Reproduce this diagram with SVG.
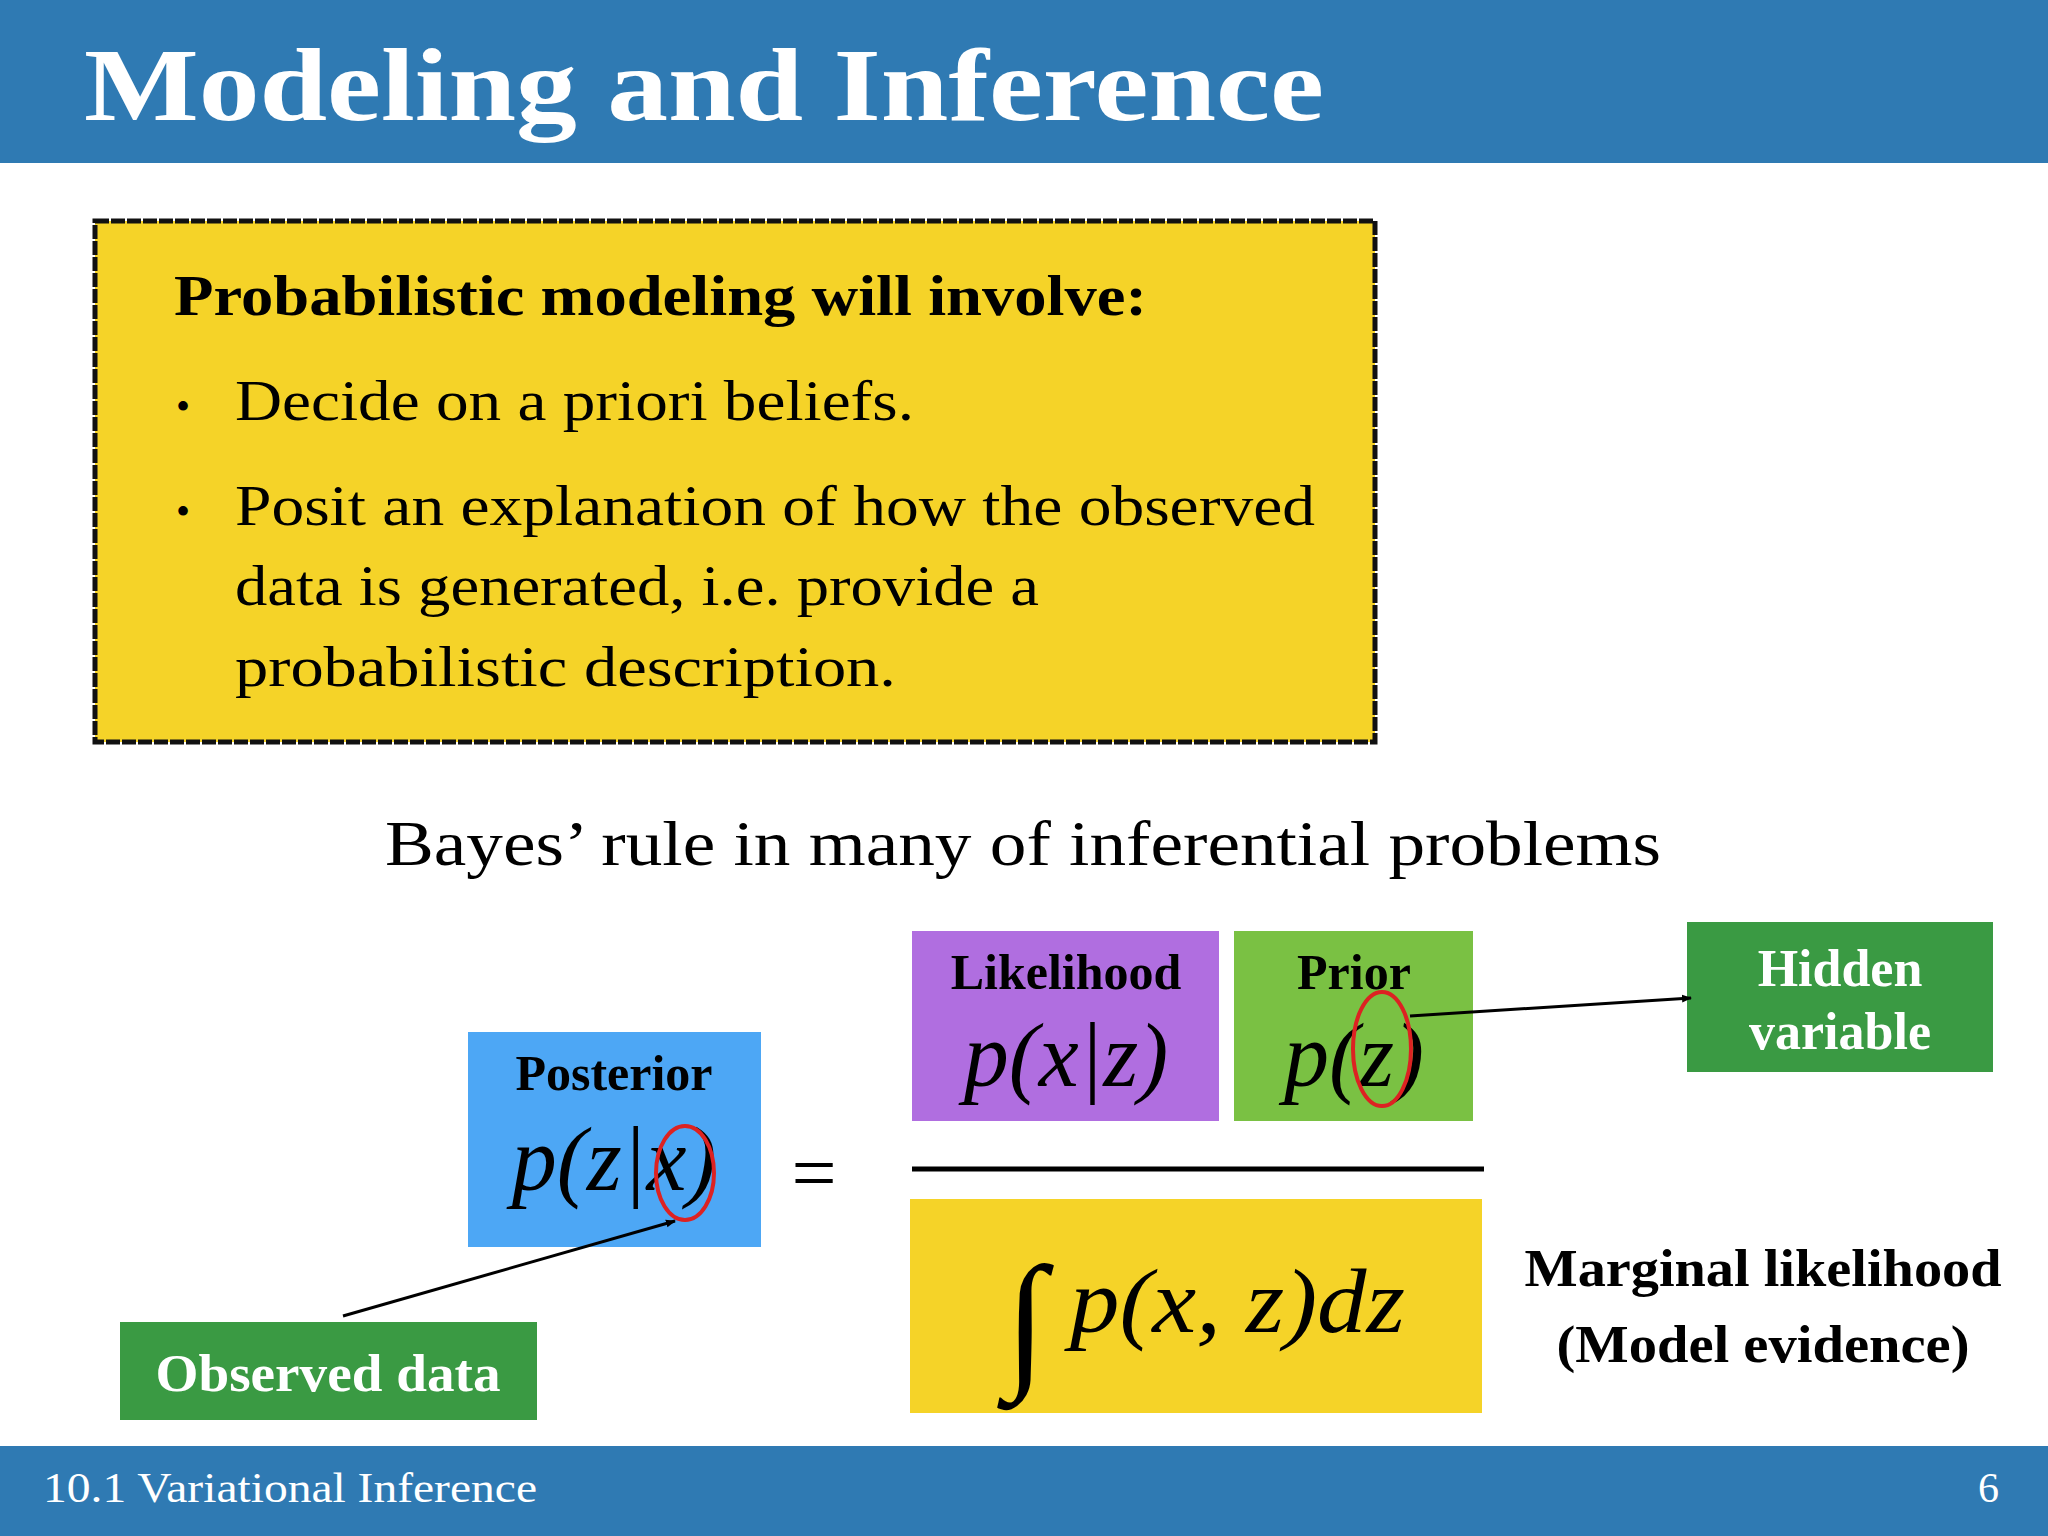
<svg xmlns="http://www.w3.org/2000/svg" width="2048" height="1536" viewBox="0 0 2048 1536">
<defs>
<style>
.s{font-family:"Liberation Serif","DejaVu Serif",serif;}
.b{font-weight:bold;}
.m{font-family:"Liberation Serif","DejaVu Serif",serif;font-style:italic;}
</style>
<marker id="ah" markerWidth="10" markerHeight="10" refX="9" refY="5" orient="auto" markerUnits="userSpaceOnUse" viewBox="0 0 10 10"><path d="M0,1 L10,5 L0,9 z" fill="#000"/></marker>
</defs>
<rect width="2048" height="1536" fill="#fff"/>
<rect x="0" y="0" width="2048" height="163" fill="#2f7ab3"/>
<text x="84" y="120" class="s b" font-size="104" fill="#fff" textLength="1240" lengthAdjust="spacingAndGlyphs">Modeling and Inference</text>
<g id="box">
<rect x="95" y="221" width="1280" height="521" fill="#f5d328" stroke="#111" stroke-width="5" stroke-dasharray="14 2"/>
<text x="174" y="315" class="s b" font-size="56" textLength="973" lengthAdjust="spacingAndGlyphs">Probabilistic modeling will involve:</text>
<text x="176" y="420" class="s" font-size="40">•</text>
<text x="235" y="420" class="s" font-size="58" textLength="679" lengthAdjust="spacingAndGlyphs">Decide on a priori beliefs.</text>
<text x="176" y="525" class="s" font-size="40">•</text>
<text x="235" y="525" class="s" font-size="58" textLength="1080" lengthAdjust="spacingAndGlyphs">Posit an explanation of how the observed</text>
<text x="235" y="605" class="s" font-size="58" textLength="804" lengthAdjust="spacingAndGlyphs">data is generated, i.e. provide a</text>
<text x="235" y="686" class="s" font-size="58" textLength="661" lengthAdjust="spacingAndGlyphs">probabilistic description.</text>
</g>
<text x="385" y="865" class="s" font-size="64" textLength="1276" lengthAdjust="spacingAndGlyphs">Bayes’ rule in many of inferential problems</text>
<g id="posterior">
<rect x="468" y="1032" width="293" height="215" fill="#4da7f5"/>
<text x="614" y="1090" text-anchor="middle" class="s b" font-size="50">Posterior</text>
<text x="614" y="1190" text-anchor="middle" class="m" font-size="90">p(z|x)</text>
<ellipse cx="685" cy="1173" rx="29" ry="47" fill="none" stroke="#d22" stroke-width="4"/>
</g>
<text x="814" y="1200" text-anchor="middle" class="s" font-size="80">=</text>
<g id="likelihood">
<rect x="912" y="931" width="307" height="190" fill="#b06ee0"/>
<text x="1066" y="989" text-anchor="middle" class="s b" font-size="50">Likelihood</text>
<text x="1066" y="1086" text-anchor="middle" class="m" font-size="90">p(x|z)</text>
</g>
<g id="prior">
<rect x="1234" y="931" width="239" height="190" fill="#7ac143"/>
<text x="1354" y="989" text-anchor="middle" class="s b" font-size="50">Prior</text>
<text x="1354" y="1086" text-anchor="middle" class="m" font-size="90">p(z)</text>
<ellipse cx="1382" cy="1049" rx="29" ry="57" fill="none" stroke="#d22" stroke-width="4"/>
</g>
<line x1="912" y1="1169" x2="1484" y2="1169" stroke="#000" stroke-width="5"/>
<g id="evidence">
<rect x="910" y="1199" width="572" height="214" fill="#f5d328"/>
<text x="1005" y="1370" class="m" font-size="150">∫</text>
<text x="1070" y="1332" class="m" font-size="90" textLength="335" lengthAdjust="spacingAndGlyphs">p(x, z)dz</text>
</g>
<g id="marginal">
<text x="1763" y="1286" text-anchor="middle" class="s b" font-size="52" textLength="477" lengthAdjust="spacingAndGlyphs">Marginal likelihood</text>
<text x="1763" y="1362" text-anchor="middle" class="s b" font-size="52" textLength="413" lengthAdjust="spacingAndGlyphs">(Model evidence)</text>
</g>
<g id="hidden">
<rect x="1687" y="922" width="306" height="150" fill="#3a9a43"/>
<text x="1840" y="986" text-anchor="middle" class="s b" font-size="52" fill="#fff">Hidden</text>
<text x="1840" y="1049" text-anchor="middle" class="s b" font-size="52" fill="#fff">variable</text>
</g>
<g id="observed">
<rect x="120" y="1322" width="417" height="98" fill="#3a9a43"/>
<text x="328" y="1391" text-anchor="middle" class="s b" font-size="52" fill="#fff" textLength="345" lengthAdjust="spacingAndGlyphs">Observed data</text>
</g>
<g id="connectors">
<line x1="1410" y1="1016" x2="1691" y2="998" stroke="#000" stroke-width="3" marker-end="url(#ah)"/>
<line x1="343" y1="1316" x2="675" y2="1221" stroke="#000" stroke-width="3" marker-end="url(#ah)"/>
</g>
<rect x="0" y="1446" width="2048" height="90" fill="#2f7ab3"/>
<text x="43" y="1502" class="s" font-size="42" fill="#fff" textLength="494" lengthAdjust="spacingAndGlyphs">10.1 Variational Inference</text>
<text x="1999" y="1502" text-anchor="end" class="s" font-size="42" fill="#fff">6</text>
</svg>
